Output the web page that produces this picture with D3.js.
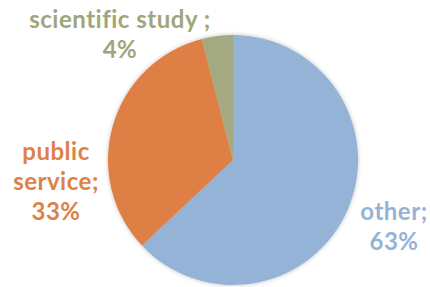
<!DOCTYPE html>
<html>
<head>
<meta charset="utf-8">
<script src="https://cdn.jsdelivr.net/npm/d3@7"></script>
<style>
  html, body { margin: 0; padding: 0; background: #fff; }
  svg { display: block; }
</style>
</head>
<body>
<svg id="chart"></svg>
<script>
// data
let categories = ['other', 'public service', 'scientific study'];
let shares = [63, 33, 4];
let labelLines = [['other;', '63%'], ['public', 'service;', '33%'], ['scientific study ;', '4%']];
let colors = ['#95B3D7', '#DE8045', '#A3A981'];
let labelColors = ['#95B3D7', '#DE8147', '#A0A67C'];

let width = 430;
let height = 287;
let radius = 125;
let cx = 233, cy = 160;

let svg = d3.select('#chart').attr('width', width).attr('height', height);

// soft shadow round the pie
let defs = svg.append('defs');
let filter = defs.append('filter').attr('id', 'shadow')
  .attr('x', '-10%').attr('y', '-10%').attr('width', '120%').attr('height', '120%');
filter.append('feDropShadow')
  .attr('dx', 0).attr('dy', 0).attr('stdDeviation', 2)
  .attr('flood-color', '#000').attr('flood-opacity', 0.25);

let pie = d3.pie().sort(null).value(d => d.value);
let arc = d3.arc().innerRadius(0).outerRadius(radius);

let data = categories.map((c, i) => ({ name: c, value: shares[i], idx: i }));
let arcs = pie(data);

let g = svg.append('g').attr('transform', `translate(${cx},${cy})`);

g.append('g').attr('filter', 'url(#shadow)')
  .selectAll('path')
  .data(arcs)
  .enter().append('path')
  .attr('d', arc)
  .attr('fill', d => colors[d.data.idx]);

// label layout (Excel "best fit" placement): centre x and first baseline, relative to pie centre
let labelPos = [[161, 60], [-177, 0], [-113, -132]];
let lineH = 30;

arcs.forEach(a => {
  let i = a.data.idx;
  let t = g.append('text')
    .attr('text-anchor', 'middle')
    .attr('font-family', 'Lato, sans-serif')
    .attr('font-weight', 'bold')
    .attr('font-size', '24px')
    .attr('letter-spacing', '0.5px')
    .attr('fill', labelColors[i]);
  labelLines[i].forEach((l, k) => {
    t.append('tspan')
      .attr('x', labelPos[i][0])
      .attr('y', labelPos[i][1] + k * lineH)
      .text(l);
  });
});
</script>
</body>
</html>
